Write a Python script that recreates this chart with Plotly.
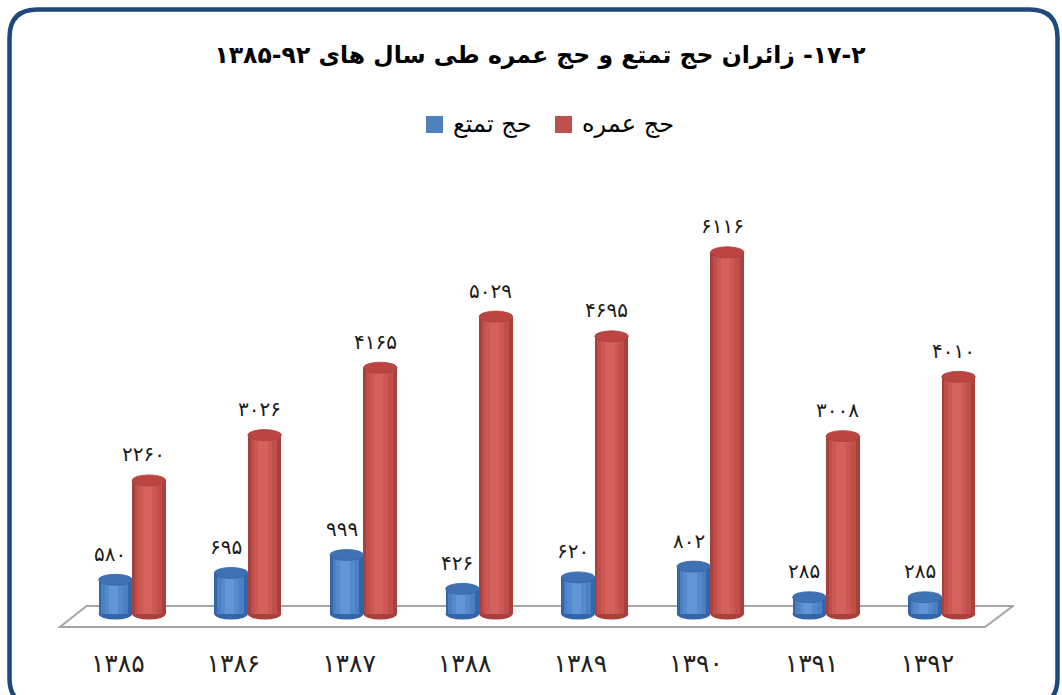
import plotly.graph_objects as go

# ---------------- data ----------------
years = [1385, 1386, 1387, 1388, 1389, 1390, 1391, 1392]
hajj_tamattu = [580, 695, 999, 426, 620, 802, 285, 285]
hajj_umrah = [2260, 3026, 4165, 5029, 4695, 6116, 3008, 4010]
series_names = ["حج تمتع", "حج عمره"]
title_text = "۱۷-۲- زائران حج تمتع و حج عمره طی سال های ۹۲-۱۳۸۵"

FA = str.maketrans("0123456789", "۰۱۲۳۴۵۶۷۸۹")


def fa(n):
    return str(n).translate(FA)


year_labels = [fa(y) for y in years]

# ---------------- layout geometry ----------------
W, H = 1062, 695
ML, MR, MT, MB = 31, 48, 200, 49
PW, PH = W - ML - MR, H - MT - MB
XR = [-0.75, 7.75]
YR = [-540, 7000]
units_per_px = (YR[1] - YR[0]) / PH
FONT = "DejaVu Sans"


def px_x(px):
    return (px - ML) / PW


def px_y(py):
    return (H - MB - py) / PH


BAR_W = 0.29
OFFS = [-0.165, -0.165 + BAR_W]
blue_layers = ["#3465A8", "#4A7FC4", "#5589CE", "#6296D8"]
red_layers = ["#A8403D", "#C24E4A", "#CC5753", "#D5615C"]
legend_cols = ["#4F81BD", "#C0504D"]
layer_frac = [1.0, 0.80, 0.55, 0.28]
layer_shift = [0.0, -0.02, -0.04, -0.05]
top_cols = ["#4171B5", "#BC4542"]

x_idx = list(range(len(years)))
fig = go.Figure()

for s, (vals, layers) in enumerate([(hajj_tamattu, blue_layers), (hajj_umrah, red_layers)]):
    for k, (col, fr, sh) in enumerate(zip(layers, layer_frac, layer_shift)):
        w = BAR_W * fr
        off = OFFS[s] + (BAR_W - w) / 2 + sh * BAR_W
        fig.add_trace(go.Bar(
            x=x_idx, y=vals, width=w, offset=off,
            marker=dict(color=col, line=dict(width=0)),
            name=series_names[s], showlegend=False,
            legendgroup=series_names[s], hoverinfo="skip",
        ))

shapes = []
# floor (decorative 3D floor)
shapes.append(dict(
    type="path", xref="x", yref="y", layer="below",
    path="M -0.5,-220 L 7.5,-220 L 7.74,135 L -0.27,135 Z",
    line=dict(color="#A6A6A6", width=2), fillcolor="white",
))

eh = 5.5 * units_per_px
for s, (vals, layers) in enumerate([(hajj_tamattu, blue_layers), (hajj_umrah, red_layers)]):
    for i, v in zip(x_idx, vals):
        x0 = i + OFFS[s]
        x1 = x0 + BAR_W
        shapes.append(dict(type="circle", xref="x", yref="y", layer="below",
                           x0=x0, x1=x1, y0=-eh, y1=eh,
                           fillcolor=layers[0], line=dict(width=0)))
        shapes.append(dict(type="circle", xref="x", yref="y", layer="above",
                           x0=x0, x1=x1, y0=v - eh, y1=v + eh,
                           fillcolor=top_cols[s], line=dict(color=layers[0], width=0.8)))

# outer rounded frame
fx0, fy0, fx1, fy1, r = 9.5, 9.5, 1057.5, 706, 28
pts = [
    ("M", fx0 + r, fy0), ("L", fx1 - r, fy0), ("Q", fx1, fy0, fx1, fy0 + r),
    ("L", fx1, fy1 - r), ("Q", fx1, fy1, fx1 - r, fy1),
    ("L", fx0 + r, fy1), ("Q", fx0, fy1, fx0, fy1 - r),
    ("L", fx0, fy0 + r), ("Q", fx0, fy0, fx0 + r, fy0),
]
path = ""
for p in pts:
    coords = p[1:]
    segs = [f"{px_x(coords[j]):.5f},{px_y(coords[j + 1]):.5f}" for j in range(0, len(coords), 2)]
    path += p[0] + " " + " ".join(segs) + " "
path += "Z"
shapes.append(dict(type="path", xref="paper", yref="paper", path=path,
                   line=dict(color="#1F497D", width=4.5), fillcolor="rgba(0,0,0,0)"))

# custom legend (square left of RTL label)
legend_sq_left = [426, 555]
legend_txt_left = [451, 580]
annotations = []
for s in range(2):
    shapes.append(dict(type="rect", xref="paper", yref="paper",
                       x0=px_x(legend_sq_left[s]), x1=px_x(legend_sq_left[s] + 17),
                       y0=px_y(133), y1=px_y(116),
                       fillcolor=legend_cols[s], line=dict(width=0)))
    annotations.append(dict(x=px_x(legend_txt_left[s]), y=px_y(124), xref="paper", yref="paper",
                            text=series_names[s], showarrow=False, xanchor="left", yanchor="middle",
                            font=dict(family=FONT, size=24, color="black")))

for s, vals in enumerate([hajj_tamattu, hajj_umrah]):
    for i, v in zip(x_idx, vals):
        annotations.append(dict(
            x=i + OFFS[s] + BAR_W / 2, y=v, xref="x", yref="y",
            text=fa(v), showarrow=False, xshift=-5, yshift=26,
            font=dict(family=FONT, size=20, color="#1a1a1a"),
        ))

fig.update_layout(
    width=W, height=H,
    margin=dict(l=ML, r=MR, t=MT, b=MB),
    paper_bgcolor="white", plot_bgcolor="white",
    barmode="overlay", bargap=0, showlegend=False,
    title=dict(text="\u202B" + title_text + "\u202C", x=540 / W, xanchor="center",
               y=1 - 55 / H, yanchor="middle",
               font=dict(family=FONT, size=23.5, color="black", weight="bold")),
    xaxis=dict(range=XR, tickvals=x_idx, ticktext=year_labels, showgrid=False,
               zeroline=False, showline=False, ticks="",
               tickfont=dict(family=FONT, size=25, color="#222222"), fixedrange=True),
    yaxis=dict(range=YR, visible=False, showgrid=False, zeroline=False, fixedrange=True),
    shapes=shapes, annotations=annotations,
    font=dict(family=FONT),
)

fig.write_html("out.html", config={"displayModeBar": False},
               post_script="document.body.style.margin='0px';document.body.style.overflow='hidden';")
